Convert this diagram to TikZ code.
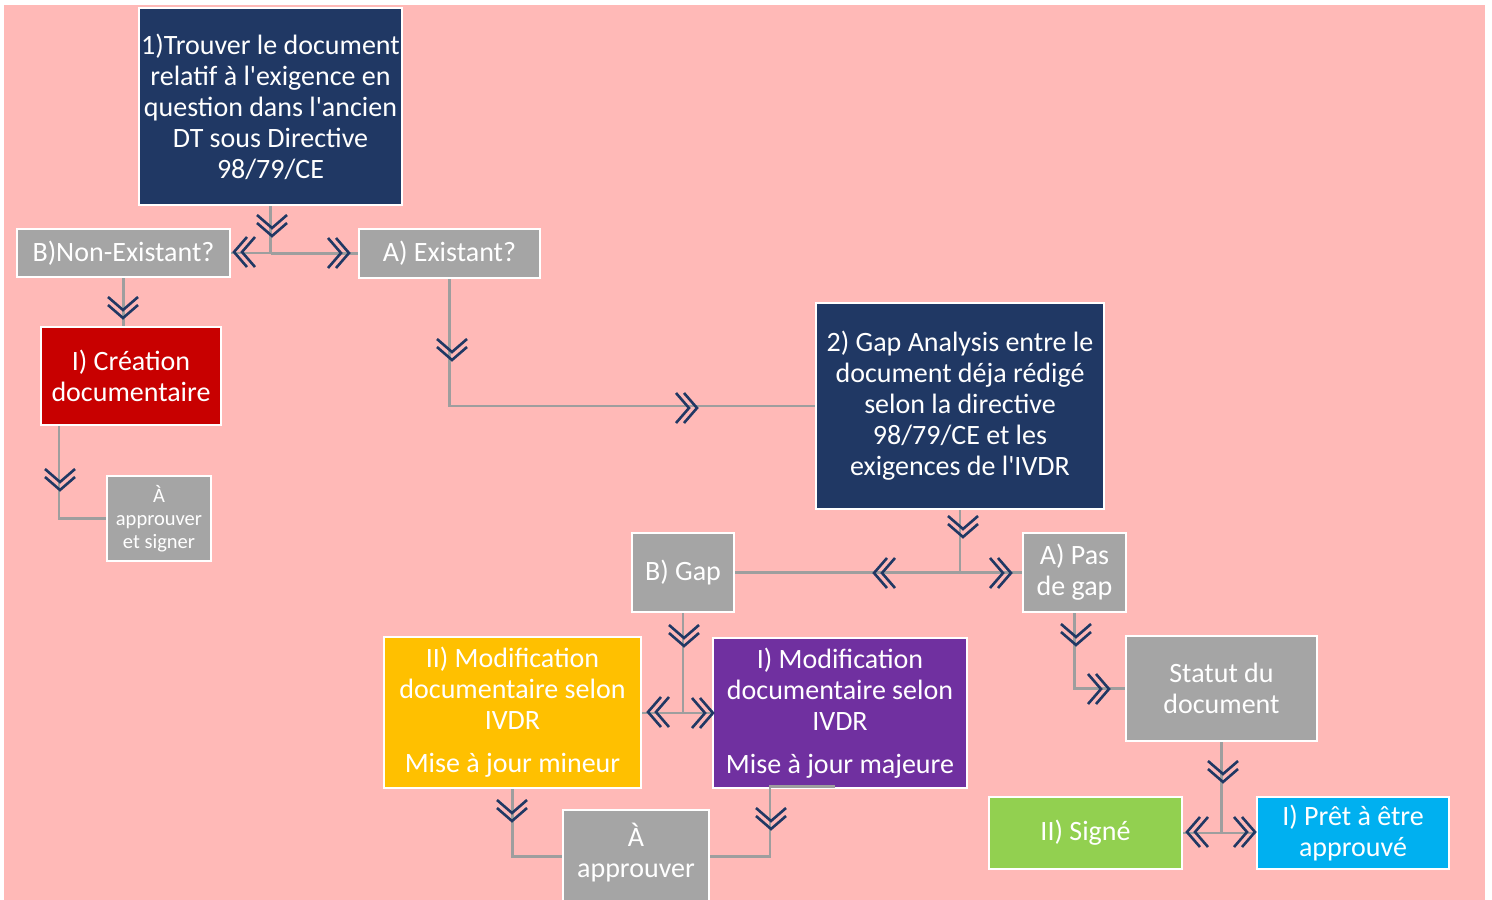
\documentclass[tikz,border=0pt]{standalone}
\usepackage{fontspec}
\setmainfont{Carlito}[Ligatures=TeXOff]
\usetikzlibrary{calc}
\definecolor{pinkbg}{RGB}{255,185,183}
\definecolor{navy}{RGB}{32,56,100}
\definecolor{boxgray}{RGB}{165,165,165}
\definecolor{linegray}{RGB}{158,158,158}
\definecolor{redbox}{RGB}{200,0,0}
\definecolor{yelbox}{RGB}{255,192,0}
\definecolor{purbox}{RGB}{112,48,160}
\definecolor{grnbox}{RGB}{146,208,80}
\definecolor{cyanbox}{RGB}{0,176,240}
\begin{document}
\begin{tikzpicture}[x=1pt,y=-1pt,
  box/.style={draw=white, line width=2.5pt, text=white, align=center, inner sep=0pt,
    font=\fontsize{28}{31}\selectfont},
  smalltext/.style={font=\fontsize{20.5}{23}\selectfont},
  conn/.style={draw=linegray, line width=2.5pt},
  chevline/.style={draw=navy, line width=2.6pt},
  chevD/.pic={\draw[chevline] (-15,-12)--(0,1)--(15,-12); \draw[chevline] (-15,-4)--(0,9)--(15,-4);},
  chevR/.pic={\draw[chevline] (-12,-15)--(1,0)--(-12,15); \draw[chevline] (-4,-15)--(9,0)--(-4,15);},
  chevL/.pic={\draw[chevline] (12,-15)--(-1,0)--(12,15); \draw[chevline] (4,-15)--(-9,0)--(4,15);}
]
\useasboundingbox (0,0) rectangle (1492,900);
\clip (0,0) rectangle (1492,900);
\fill[pinkbg] (4,5) rectangle (1485,900);

% nodes
\node[box, fill=navy, minimum width=263, minimum height=197] (b1) at (270.5,106.5)
  {1)Trouver le document\\relatif à l'exigence en\\question dans l'ancien\\DT sous Directive\\98/79/CE};
\node[box, fill=boxgray, minimum width=213, minimum height=48] (bne) at (123.5,253) {B)Non-Existant?};
\node[box, fill=boxgray, minimum width=181, minimum height=49] (aex) at (449.5,253.5) {A) Existant?};
\node[box, fill=redbox, minimum width=180, minimum height=98] (crea) at (131,376) {I) Création\\documentaire};
\node[box, smalltext, fill=boxgray, minimum width=104, minimum height=85] (sign1) at (159,518.5) {À\\approuver\\et signer};
\node[box, fill=navy, minimum width=288, minimum height=206] (b2) at (960,406)
  {2) Gap Analysis entre le\\document déja rédigé\\selon la directive\\98/79/CE et les\\exigences de l'IVDR};
\node[box, fill=boxgray, minimum width=102, minimum height=79] (gap) at (683,572.5) {B) Gap};
\node[box, fill=boxgray, minimum width=103, minimum height=79] (pas) at (1074.5,572.5) {A) Pas\\de gap};
\node[box, fill=yelbox, minimum width=257, minimum height=151] (yel) at (512.5,712.5)
  {II) Modification\\documentaire selon\\IVDR\\[12pt]Mise à jour mineur};
\node[box, fill=purbox, minimum width=254, minimum height=150] (pur) at (840,713)
  {I) Modification\\documentaire selon\\IVDR\\[12pt]Mise à jour majeure};
\node[box, fill=boxgray, minimum width=146, minimum height=93, text depth=13pt] (appr) at (636,856.5) {À\\approuver};
\node[box, fill=boxgray, minimum width=191, minimum height=105] (stat) at (1221.5,688.5) {Statut du\\document};
\node[box, fill=grnbox, minimum width=193, minimum height=72] (signe) at (1085.5,833) {II) Signé};
\node[box, fill=cyanbox, minimum width=192, minimum height=72] (pret) at (1353,833) {I) Prêt à être\\approuvé};

% connectors
\draw[conn] (b1.south) -- (b1.south |- bne.east) -- (bne.east);
\draw[conn] (b1.south |- aex.west) -- (aex.west);
\draw[conn] (bne.south) -- (bne.south |- crea.north);
\draw[conn] ($(crea.south west)+(19,0)$) |- (sign1.west);
\draw[conn] (aex.south) |- (b2.west);
\draw[conn] (b2.south) -- (b2.south |- gap.east) -- (gap.east);
\draw[conn] (b2.south |- pas.west) -- (pas.west);
\draw[conn] (gap.south) -- (gap.south |- pur.west) -- (pur.west);
\draw[conn] (gap.south |- pur.west) -- (yel.east |- pur.west);
\draw[conn] (pas.south) |- (stat.west);
\draw[conn] (stat.south) -- (stat.south |- signe.east) -- (signe.east);
\draw[conn] (stat.south |- pret.west) -- (pret.west);
\draw[conn] (yel.south) |- (appr.west);
\draw[conn] ($(pur.south)+(-5,-3)$) -- ($(pur.south)+(-70,-3)$) |- (appr.east);

% chevrons
\pic at (272,227) {chevD};
\pic at (243,252) {chevL};
\pic at (340,253) {chevR};
\pic at (123,309) {chevD};
\pic at (60,481) {chevD};
\pic at (452,351) {chevD};
\pic at (688,408) {chevR};
\pic at (963,528) {chevD};
\pic at (883,573) {chevL};
\pic at (1002,573) {chevR};
\pic at (684,637) {chevD};
\pic at (657,712) {chevL};
\pic at (704,713) {chevR};
\pic at (512,812) {chevD};
\pic at (771,820) {chevD};
\pic at (1076,636) {chevD};
\pic at (1100,689) {chevR};
\pic at (1223,773) {chevD};
\pic at (1196,832) {chevL};
\pic at (1246,832) {chevR};
\end{tikzpicture}
\end{document}
